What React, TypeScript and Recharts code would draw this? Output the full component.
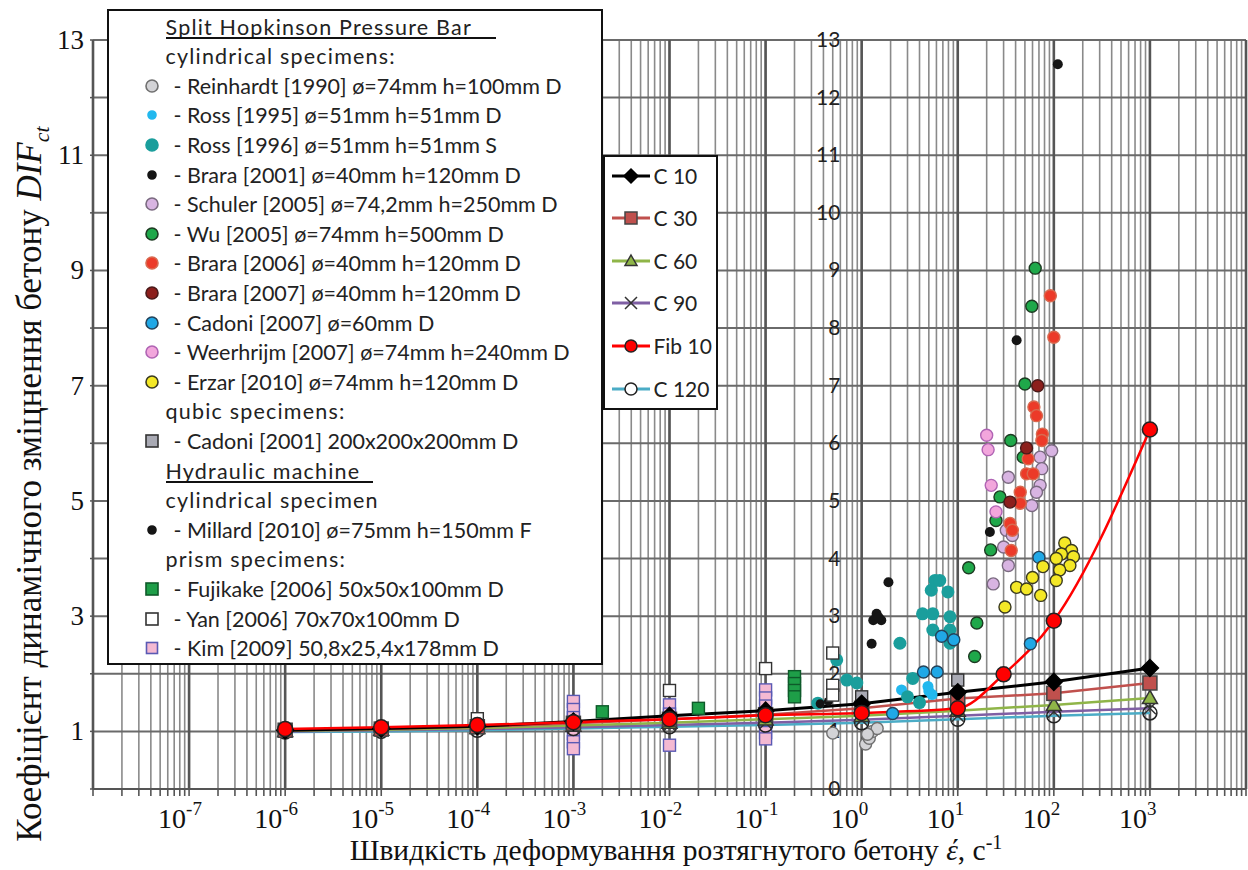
import React from "react";
import { CartesianGrid, ComposedChart, Line, ReferenceLine, Scatter, XAxis, YAxis } from "recharts";

const SERIF = '"Liberation Serif", "Times New Roman", serif';
const SANS = 'Lato, "Open Sans", sans-serif';

// Model curves: DIF at strain rates 1e-6 .. 1e3 1/s
const RATES = [1e-6, 1e-5, 1e-4, 1e-3, 1e-2, 1e-1, 1, 10, 100, 1000];
const C10 = [1.02, 1.05, 1.09, 1.17, 1.27, 1.36, 1.48, 1.68, 1.86, 2.1];
const C30 = [1.02, 1.04, 1.08, 1.14, 1.21, 1.29, 1.4, 1.57, 1.66, 1.84];
const C60 = [1.01, 1.03, 1.06, 1.1, 1.15, 1.21, 1.27, 1.36, 1.46, 1.58];
const C90 = [1.0, 1.02, 1.04, 1.07, 1.11, 1.15, 1.2, 1.27, 1.34, 1.4];
const C120 = [0.99, 1.0, 1.02, 1.05, 1.08, 1.11, 1.15, 1.21, 1.27, 1.32];
const FIB_RATES = [1e-6, 1e-5, 1e-4, 1e-3, 1e-2, 1e-1, 1, 10, 30, 100, 1000];
const FIB10 = [1.04, 1.07, 1.11, 1.16, 1.21, 1.28, 1.32, 1.4, 1.99, 2.92, 6.24];

// Experimental points: [strain rate, DIF]
const REINHARDT = [[0.5, 0.97], [1.1, 0.78], [1.2, 0.88], [1.3, 1.0], [1.45, 1.05], [1.15, 0.95]];
const ROSS95 = [[4.9, 1.78], [5.4, 1.64], [5.0, 1.7], [2.6, 1.72]];
const ROSS96 = [
  [0.35, 1.49], [0.55, 2.24], [0.7, 1.89], [0.89, 1.84], [2.5, 2.53], [3.4, 1.92], [4.3, 3.04], [5.5, 3.04],
  [5.3, 3.45], [5.8, 3.62], [6.5, 3.62], [7.9, 3.42], [8.3, 2.99], [5.5, 2.76], [8.3, 2.76], [8.3, 2.53],
  [3.0, 1.6], [4.0, 1.5],
];
const BRARA01 = [[1.9, 3.59], [1.43, 3.04], [1.32, 2.93], [1.6, 2.93], [1.5, 2.98], [1.27, 2.52], [41, 7.79], [110, 12.58], [21.6, 4.46]];
const SCHULER = [
  [33.6, 5.41], [72, 5.76], [95, 5.87], [75, 5.56], [72, 5.27], [66, 5.15], [59, 4.92], [32, 4.49], [37, 4.4],
  [30, 4.2], [33.6, 3.88], [23.4, 3.56],
];
const WU = [[50, 7.03], [64, 9.04], [59, 8.38], [35.6, 6.05], [27.5, 5.07], [25, 4.66], [22, 4.15], [13, 3.84], [15.8, 2.88], [15, 2.3], [48, 5.76]];
const BRARA06 = [
  [62, 6.63], [66, 6.48], [76, 6.16], [75, 6.05], [54, 5.73], [52, 5.47], [61, 5.47], [44.7, 5.15], [44.7, 4.96],
  [35, 4.61], [37, 4.49], [36, 4.14], [92, 8.56], [100, 7.84],
];
const BRARA07 = [[68, 7.0], [52, 5.92], [35, 4.98]];
const CADONI07 = [[4.4, 2.03], [6.1, 2.03], [6.8, 2.65], [9.1, 2.59], [57, 2.52], [70, 4.02], [2.1, 1.31]];
const WEERHRIJM = [[20, 6.14], [20.7, 5.89], [22.3, 5.27], [25, 4.81]];
const ERZAR = [
  [130, 4.27], [153, 4.14], [160, 4.03], [120, 4.08], [106, 4.0], [147, 3.88], [115, 3.8], [106, 3.62], [77, 3.86],
  [60, 3.67], [41, 3.5], [52, 3.47], [73, 3.36], [31, 3.16],
];
const CADONI01 = [[1.0, 1.6], [10, 1.89]];
const MILLARD = [[0.37, 1.48], [0.45, 1.52]];
const FUJIKAKE = [[2e-3, 1.34], [2e-2, 1.4], [0.2, 1.95], [0.2, 1.83], [0.2, 1.71], [0.2, 1.6]];
const YAN = [[1e-4, 1.22], [1e-2, 1.71], [0.1, 2.09], [0.5, 2.36], [0.5, 1.8], [0.5, 1.63]];
const KIM = [
  [1e-3, 1.52], [1e-3, 1.38], [1e-3, 1.24], [1e-3, 1.1], [1e-3, 0.96], [1e-3, 0.82], [1e-3, 0.7],
  [1e-2, 1.46], [1e-2, 1.3], [1e-2, 1.18], [1e-2, 0.76],
  [0.1, 1.72], [0.1, 1.58], [0.1, 1.44], [0.1, 1.3], [0.1, 0.98], [0.1, 0.87],
];

// Axes
const DECADES = [-8, -7, -6, -5, -4, -3, -2, -1, 0, 1, 2, 3, 4];
const MINORS = [2, 3, 4, 5, 6, 7, 8, 9];
const LABELED_DECADES = [-7, -6, -5, -4, -3, -2, -1, 0, 1, 2, 3];
const LEFT_LABELS = [1, 3, 5, 7, 9, 11, 13];
const INNER_LABELS = [0, 1, 2, 3, 4, 5, 6, 7, 8, 9, 10, 11, 12, 13];
const INNER_LABEL_RATE = 0.6;

const X_TICKS = DECADES.flatMap((e) => (e < 4 ? [10 ** e, ...MINORS.map((m) => m * 10 ** e)] : [10 ** e]));
const Y_TICKS = INNER_LABELS;

type Kind = "circle" | "square" | "diamond" | "triangle" | "cross";

function Mark({ kind, x, y, r, fill, stroke, sw = 1.3 }: { kind: Kind; x: number; y: number; r: number; fill: string; stroke: string; sw?: number }) {
  if (kind === "circle") return <circle cx={x} cy={y} r={r} fill={fill} stroke={stroke} strokeWidth={sw} />;
  if (kind === "square") return <rect x={x - r} y={y - r} width={2 * r} height={2 * r} fill={fill} stroke={stroke} strokeWidth={sw} />;
  if (kind === "diamond")
    return <polygon points={`${x},${y - r} ${x + r},${y} ${x},${y + r} ${x - r},${y}`} fill={fill} stroke={stroke} strokeWidth={sw} />;
  if (kind === "triangle")
    return <polygon points={`${x},${y - r} ${x + r},${y + r * 0.75} ${x - r},${y + r * 0.75}`} fill={fill} stroke={stroke} strokeWidth={sw} />;
  return <path d={`M${x - r},${y - r}L${x + r},${y + r}M${x - r},${y + r}L${x + r},${y - r}`} stroke={stroke} strokeWidth={sw} fill="none" />;
}

type DotStyle = { key: string; data: number[][]; kind: Kind; r: number; lr: number; fill: string; stroke: string };

const DOTS: Record<string, DotStyle> = {
  reinhardt: { key: "reinhardt", data: REINHARDT, kind: "circle", r: 6, lr: 6, fill: "#d3d3d6", stroke: "#707070" },
  ross95: { key: "ross95", data: ROSS95, kind: "circle", r: 5.5, lr: 4, fill: "#22b8ee", stroke: "none" },
  ross96: { key: "ross96", data: ROSS96, kind: "circle", r: 6.5, lr: 6, fill: "#1a9e9c", stroke: "none" },
  brara01: { key: "brara01", data: BRARA01, kind: "circle", r: 5, lr: 4, fill: "#151515", stroke: "none" },
  schuler: { key: "schuler", data: SCHULER, kind: "circle", r: 6, lr: 6, fill: "#d8b4e2", stroke: "#7a6a80" },
  wu: { key: "wu", data: WU, kind: "circle", r: 6, lr: 6, fill: "#1fa84a", stroke: "#1d3a22" },
  brara06: { key: "brara06", data: BRARA06, kind: "circle", r: 6, lr: 6, fill: "#ec3a28", stroke: "#d86a50" },
  brara07: { key: "brara07", data: BRARA07, kind: "circle", r: 6, lr: 6, fill: "#8c1f1c", stroke: "#4a1a1a" },
  cadoni07: { key: "cadoni07", data: CADONI07, kind: "circle", r: 6, lr: 6, fill: "#20a8e6", stroke: "#24435a" },
  weerhrijm: { key: "weerhrijm", data: WEERHRIJM, kind: "circle", r: 6, lr: 6, fill: "#f2a6dc", stroke: "#b064b4" },
  erzar: { key: "erzar", data: ERZAR, kind: "circle", r: 6, lr: 6, fill: "#f4e826", stroke: "#3a3a20" },
  cadoni01: { key: "cadoni01", data: CADONI01, kind: "square", r: 6, lr: 6, fill: "#a9aab4", stroke: "#333" },
  millard: { key: "millard", data: MILLARD, kind: "circle", r: 4.5, lr: 4, fill: "#151515", stroke: "none" },
  fujikake: { key: "fujikake", data: FUJIKAKE, kind: "square", r: 6, lr: 6, fill: "#1e9e48", stroke: "#0e5a2a" },
  yan: { key: "yan", data: YAN, kind: "square", r: 6, lr: 6, fill: "#ffffff", stroke: "#333" },
  kim: { key: "kim", data: KIM, kind: "square", r: 6, lr: 5.5, fill: "#f4b9d2", stroke: "#5a5ab4" },
};

type LineStyle = { name: string; rates: number[]; values: number[]; color: string; width: number; kind: Kind; r: number; fill: string; stroke: string; curve: "linear" | "monotone" };

const LINES: LineStyle[] = [
  { name: "C 120", rates: RATES, values: C120, color: "#4bacc6", width: 2.5, kind: "circle", r: 7, fill: "none", stroke: "#222", curve: "linear" },
  { name: "C 90", rates: RATES, values: C90, color: "#7f5fa4", width: 2.5, kind: "cross", r: 6, fill: "none", stroke: "#333", curve: "linear" },
  { name: "C 60", rates: RATES, values: C60, color: "#8fb548", width: 2.5, kind: "triangle", r: 7.5, fill: "#8fb548", stroke: "#333", curve: "linear" },
  { name: "C 30", rates: RATES, values: C30, color: "#c0504d", width: 2.5, kind: "square", r: 7, fill: "#c0504d", stroke: "#444", curve: "linear" },
  { name: "C 10", rates: RATES, values: C10, color: "#000000", width: 3, kind: "diamond", r: 8.5, fill: "#000", stroke: "#000", curve: "linear" },
  { name: "Fib 10", rates: FIB_RATES, values: FIB10, color: "#ff0000", width: 2.5, kind: "circle", r: 7.5, fill: "#ff0000", stroke: "#222", curve: "monotone" },
];

const LEGEND2_ORDER = ["C 10", "C 30", "C 60", "C 90", "Fib 10", "C 120"];

type Row = { type: "title" | "head" | "item"; text: string; dot?: string; underline?: number };

const LEGEND_ROWS: Row[] = [
  { type: "title", text: "Split Hopkinson Pressure Bar", underline: 330 },
  { type: "head", text: "cylindrical specimens:" },
  { type: "item", text: "- Reinhardt [1990] ø=74mm h=100mm D", dot: "reinhardt" },
  { type: "item", text: "- Ross [1995] ø=51mm h=51mm D", dot: "ross95" },
  { type: "item", text: "- Ross [1996] ø=51mm h=51mm S", dot: "ross96" },
  { type: "item", text: "- Brara [2001] ø=40mm h=120mm D", dot: "brara01" },
  { type: "item", text: "- Schuler [2005] ø=74,2mm h=250mm D", dot: "schuler" },
  { type: "item", text: "- Wu [2005] ø=74mm h=500mm D", dot: "wu" },
  { type: "item", text: "- Brara [2006] ø=40mm h=120mm D", dot: "brara06" },
  { type: "item", text: "- Brara [2007] ø=40mm h=120mm D", dot: "brara07" },
  { type: "item", text: "- Cadoni [2007] ø=60mm D", dot: "cadoni07" },
  { type: "item", text: "- Weerhrijm [2007] ø=74mm h=240mm D", dot: "weerhrijm" },
  { type: "item", text: "- Erzar [2010] ø=74mm h=120mm D", dot: "erzar" },
  { type: "head", text: "qubic specimens:" },
  { type: "item", text: "- Cadoni [2001] 200x200x200mm D", dot: "cadoni01" },
  { type: "title", text: "Hydraulic machine", underline: 207 },
  { type: "head", text: "cylindrical specimen" },
  { type: "item", text: "- Millard [2010] ø=75mm h=150mm F", dot: "millard" },
  { type: "head", text: "prism specimens:" },
  { type: "item", text: "- Fujikake [2006] 50x50x100mm D", dot: "fujikake" },
  { type: "item", text: "- Yan [2006] 70x70x100mm D", dot: "yan" },
  { type: "item", text: "- Kim [2009] 50,8x25,4x178mm D", dot: "kim" },
];

const toPoints = (d: number[][]) => d.map(([x, y]) => ({ x, y }));

function XTick(props: any) {
  const { x, y, payload } = props;
  const v = payload.value as number;
  const e = Math.round(Math.log10(v));
  if (!LABELED_DECADES.includes(e) || Math.abs(v / 10 ** e - 1) > 1e-6) return <g />;
  return (
    <text x={x - 31} y={y + 30} fontFamily={SERIF} fontSize={28} fill="#111">
      10
      <tspan dy={-13} fontSize={19}>
        {e}
      </tspan>
    </text>
  );
}

function YTick(props: any) {
  const { x, y, payload } = props;
  if (!LEFT_LABELS.includes(payload.value)) return <g />;
  return (
    <text x={x - 4} y={y} dy={9} textAnchor="end" fontFamily={SERIF} fontSize={27} fill="#111">
      {payload.value}
    </text>
  );
}

function SourceLegend() {
  const left = 107;
  const top = 9;
  const bw = 2.5;
  return (
    <div
      style={{
        position: "absolute", left, top, width: 496, height: 656, boxSizing: "border-box",
        border: `${bw}px solid #111`, background: "#fff", fontFamily: SANS, fontSize: 21.5, color: "#222",
      }}
    >
      {LEGEND_ROWS.map((row, i) => {
        const cy = 27 + i * 29.6 - top - bw;
        const textLeft = row.type === "item" ? 174 - left - bw : 166 - left - bw;
        const st = row.dot ? DOTS[row.dot] : null;
        return (
          <React.Fragment key={i}>
            {st && (
              <svg style={{ position: "absolute", left: 152 - left - bw - 9, top: cy - 9 }} width={18} height={18}>
                <Mark kind={st.kind} x={9} y={9} r={st.lr} fill={st.fill} stroke={st.stroke === "none" ? st.fill : st.stroke} sw={1.6} />
              </svg>
            )}
            <div
              style={{
                position: "absolute", left: textLeft, top: cy - 15, height: 30, lineHeight: "30px", whiteSpace: "nowrap",
                letterSpacing: row.type === "item" ? 0 : 1.2,
              }}
            >
              {row.text}
            </div>
            {row.underline && (
              <div style={{ position: "absolute", left: textLeft, top: cy + 10, width: row.underline, height: 2.5, background: "#111" }} />
            )}
          </React.Fragment>
        );
      })}
    </div>
  );
}

function SeriesLegend() {
  const left = 603;
  const top = 155;
  const bw = 2.5;
  return (
    <div
      style={{
        position: "absolute", left, top, width: 115, height: 255, boxSizing: "border-box",
        border: `${bw}px solid #111`, background: "#fff", fontFamily: SANS, fontSize: 21, color: "#222",
      }}
    >
      {LEGEND2_ORDER.map((name, i) => {
        const s = LINES.find((l) => l.name === name)!;
        const cy = 176 + i * 42.6 - top - bw;
        return (
          <React.Fragment key={name}>
            <svg style={{ position: "absolute", left: 612 - left - bw, top: cy - 10 }} width={40} height={20}>
              <line x1={0} y1={10} x2={38} y2={10} stroke={s.color} strokeWidth={3} />
              <Mark kind={s.kind} x={19} y={10} r={s.kind === "diamond" ? 7 : 6} fill={s.fill === "none" ? "#fff" : s.fill} stroke={s.stroke} sw={1.5} />
            </svg>
            <div style={{ position: "absolute", left: 654 - left - bw, top: cy - 15, height: 30, lineHeight: "30px", whiteSpace: "nowrap" }}>{name}</div>
          </React.Fragment>
        );
      })}
    </div>
  );
}

export default function App() {
  return (
    <div style={{ position: "absolute", left: 0, top: 0, width: 1248, height: 870, background: "#fff" }}>
      <ComposedChart width={1248} height={870} margin={{ top: 40, right: 2, bottom: 21, left: 13 }}>
        <CartesianGrid horizontal={false} stroke="#8a8a8a" strokeWidth={1.6} />
        <CartesianGrid vertical={false} stroke="#6a6a6a" strokeWidth={2} />
        <XAxis
          dataKey="x"
          type="number"
          scale="log"
          domain={[1e-8, 1e4]}
          ticks={X_TICKS}
          interval={0}
          height={60}
          tickSize={7}
          tick={<XTick />}
          axisLine={{ stroke: "#555", strokeWidth: 2 }}
          tickLine={{ stroke: "#555", strokeWidth: 1.6 }}
        />
        <YAxis
          dataKey="y"
          type="number"
          domain={[0, 13]}
          ticks={Y_TICKS}
          interval={0}
          width={80}
          tickSize={3}
          tick={<YTick />}
          axisLine={{ stroke: "#555", strokeWidth: 2 }}
          tickLine={{ stroke: "#555", strokeWidth: 1.5 }}
        />
        {DECADES.map((e) => (
          <ReferenceLine key={e} x={10 ** e} stroke="#555" strokeWidth={2.6} />
        ))}
        <Scatter
          data={INNER_LABELS.map((v) => ({ x: INNER_LABEL_RATE, y: v }))}
          isAnimationActive={false}
          shape={(p: any) => (
            <text x={p.cx} y={p.cy} dy={7} textAnchor="end" fontFamily={SANS} fontSize={21} fill="#222">
              {p.payload.y}
            </text>
          )}
        />
        {Object.values(DOTS).map((s) => (
          <Scatter
            key={s.key}
            data={toPoints(s.data)}
            isAnimationActive={false}
            shape={(p: any) => <Mark kind={s.kind} x={p.cx} y={p.cy} r={s.r} fill={s.fill} stroke={s.stroke} sw={1.4} />}
          />
        ))}
        {LINES.map((s) => (
          <Line
            key={s.name}
            data={s.rates.map((x, i) => ({ x, y: s.values[i] }))}
            dataKey="y"
            type={s.curve}
            stroke={s.color}
            strokeWidth={s.width}
            isAnimationActive={false}
            dot={(p: any) => (
              <g key={`${s.name}-${p.index}`}>
                <Mark kind={s.kind} x={p.cx} y={p.cy} r={s.r} fill={s.fill} stroke={s.stroke} sw={1.5} />
              </g>
            )}
            activeDot={false}
          />
        ))}
      </ComposedChart>
      <SourceLegend />
      <SeriesLegend />
      <div
        style={{
          position: "absolute", left: 30 - 450, top: 484 - 22, width: 900, height: 44, lineHeight: "44px",
          textAlign: "center", transform: "rotate(-90deg)", fontFamily: SERIF, fontSize: 35, color: "#111", whiteSpace: "nowrap",
        }}
      >
        Коефіцієнт динамічного зміцнення бетону <i>DIF</i>
        <sub style={{ fontSize: 22, lineHeight: 0 }}>
          <i>ct</i>
        </sub>
      </div>
      <div
        style={{
          position: "absolute", left: 676 - 400, top: 830, width: 800, height: 40, lineHeight: "40px",
          textAlign: "center", fontFamily: SERIF, fontSize: 29.5, color: "#111", whiteSpace: "nowrap",
        }}
      >
        Швидкість деформування розтягнутого бетону <i>έ</i>, с
        <sup style={{ fontSize: 20, lineHeight: 0 }}>-1</sup>
      </div>
    </div>
  );
}
